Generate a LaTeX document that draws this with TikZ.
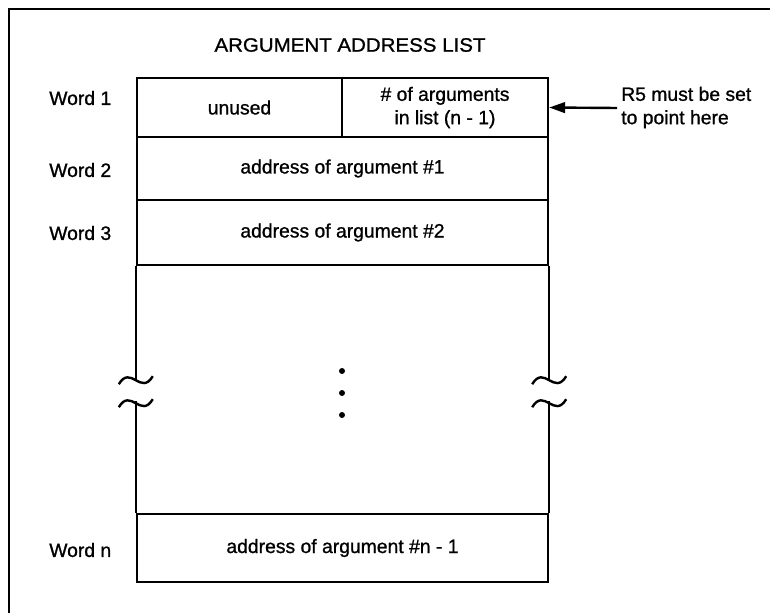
\documentclass[tikz,border=0pt]{standalone}
\usepackage{fontspec}
\setmainfont{Liberation Sans}[FakeBold=1]
\usetikzlibrary{arrows.meta}
\begin{document}
\begin{tikzpicture}[x=0.75pt,y=-0.75pt,
  every node/.style={font=\fontsize{14.5}{17.5}\selectfont},
  cell/.style={draw,line width=1.8pt,inner sep=0pt,align=center},
  lbl/.style={anchor=west,inner sep=0pt},
  edge/.style={line width=1.8pt},
  frame/.style={line width=1.8pt}]
\useasboundingbox (0,0) rectangle (770,613);
% frame
\coordinate (fbl) at (9,613);
\coordinate (ftl) at (9,9);
\coordinate (ftr) at (770,9);
\draw[frame] (fbl) -- (ftl) -- (ftr);
% title
\node (title) at (350,45) {\scalebox{1.06}[1]{ARGUMENT ADDRESS LIST}};
% rows
\node[cell,minimum width=205*0.75pt,minimum height=59*0.75pt] (unused) at (239.5,107.5) {unused};
\node[cell,minimum width=206*0.75pt,minimum height=59*0.75pt] (nargs) at (445,107.5) {\# of arguments\\in list (n - 1)};
\node[cell,minimum width=411*0.75pt,minimum height=63*0.75pt] (arg1) at (342.5,168.5) {address of argument \#1};
\node[cell,minimum width=411*0.75pt,minimum height=65*0.75pt] (arg2) at (342.5,232.5) {address of argument \#2};
\node[cell,minimum width=411*0.75pt,minimum height=68*0.75pt] (argn) at (342.5,548) {address of argument \#n - 1};
% word labels
\node[lbl] (w1) at (49,98) {Word 1};
\node[lbl] (w2) at (49,170) {Word 2};
\node[lbl] (w3) at (49,233) {Word 3};
\node[lbl] (wn) at (49,550) {Word n};
% gap region sides with break marks
\coordinate (lt) at (arg2.south west);
\coordinate (rt) at (arg2.south east);
\coordinate (lb) at (argn.north west);
\coordinate (rb) at (argn.north east);
\draw[edge] (lt) -- ++(0,114);
\draw[edge] (rt) -- ++(0,114);
\draw[edge] (lb) -- ++(0,-112);
\draw[edge] (rb) -- ++(0,-112);
\foreach \c in {lt,rt}{
  \draw[edge] (\c) ++(-17,118) .. controls ++(12,-20) and ++(-12,20) .. ++(34,-8);
  \draw[edge] (\c) ++(-17,141) .. controls ++(12,-20) and ++(-12,20) .. ++(34,-8);
}
% dots
\fill (342,371) circle (3);
\fill (342,393) circle (3);
\fill (342,415) circle (3);
% arrow and note
\coordinate (astart) at (617,108);
\draw[edge,-{Triangle[length=12pt,width=8pt]}] (astart) -- (nargs.east);
\node[lbl,align=left] (note) at (621,107.5) {R5 must be set\\to point here};
\end{tikzpicture}
\end{document}
